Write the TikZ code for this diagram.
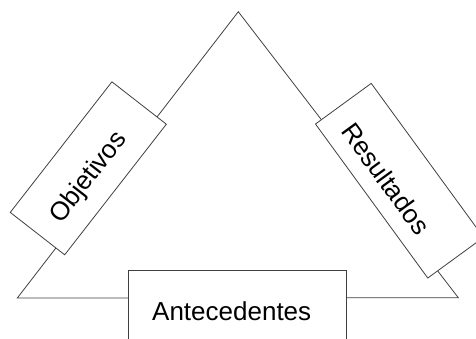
\documentclass[tikz,border=0pt]{standalone}
\usepackage{fontspec}
\setmainfont{Liberation Sans}
\begin{document}
\begin{tikzpicture}[x=1pt,y=-1pt,
  edge/.style={draw=black!75, line width=0.8pt},
  box/.style={draw=black!75, line width=0.8pt, fill=white, rectangle, inner sep=0pt},
  lbl/.style={inner sep=0pt, font=\fontsize{26}{30}\selectfont}]
\useasboundingbox (0,0) rectangle (476,338);
\begin{scope}
\clip (0,0) rectangle (476,338);
\coordinate (apex) at (238.3,11.7);
\coordinate (bl) at (17.3,298);
\coordinate (br) at (458.3,297.7);
\draw[edge, line join=miter] (apex) -- (bl) -- (br) -- cycle;
\node[box, minimum width=165.5pt, minimum height=69pt, rotate=52.1] (obj) at (88.3,168.3) {};
\node[box, minimum width=190.6pt, minimum height=69pt, rotate=-53.9] (res) at (399.5,180.7) {};
\node[box, minimum width=218pt, minimum height=81pt] (ant) at (237.7,311) {};
\node[lbl, rotate=52.1] (tobj) at (89,178) {Objetivos};
\node[lbl, rotate=-53.9] (tres) at (386,178.5) {Resultados};
\node[lbl] (tant) at (231.7,311) {Antecedentes};
\end{scope}
\end{tikzpicture}
\end{document}
